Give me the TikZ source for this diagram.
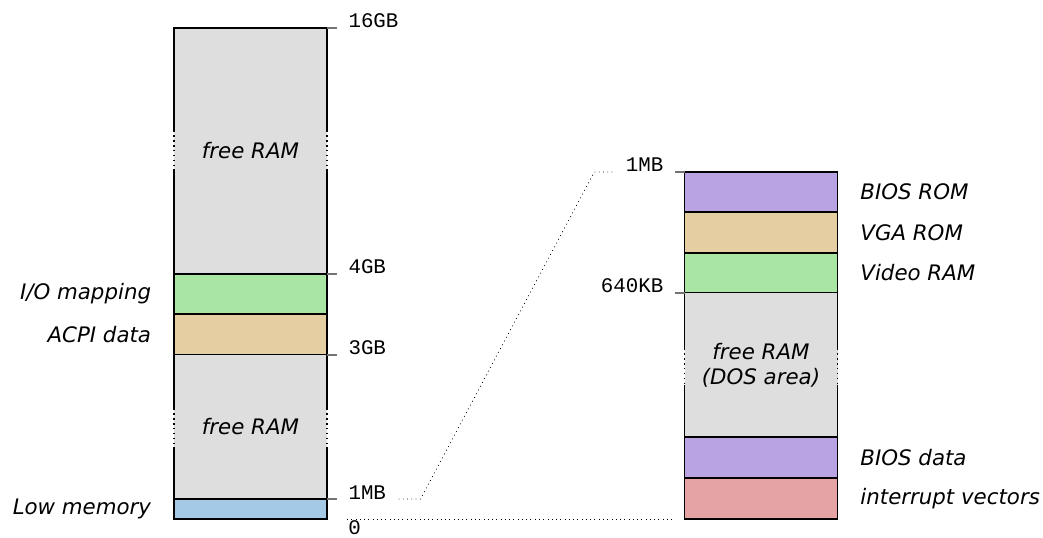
\documentclass[tikz,border=0pt]{standalone}
\usepackage{fontspec}
\setmainfont{DejaVu Sans}
\setmonofont{Liberation Mono}
\usetikzlibrary{positioning,calc}
\definecolor{ramgray}{RGB}{222,222,222}
\definecolor{biospurple}{RGB}{185,163,227}
\definecolor{acpitan}{RGB}{230,206,163}
\definecolor{iogreen}{RGB}{169,229,163}
\definecolor{lowblue}{RGB}{163,201,230}
\definecolor{vecred}{RGB}{230,163,166}
\tikzset{
  blk/.style   ={draw, line width=1.3pt, inner sep=0pt, outer sep=0pt, minimum width=114.75pt, align=center, font=\fontsize{16}{19}\selectfont\itshape},
  gapblk/.style={blk, draw=none, fill=ramgray},
  wall/.style  ={line width=1.3pt},
  brk/.style   ={line width=1.3pt, dash pattern=on 1.3pt off 2.4pt},
  tick/.style  ={line width=0.8pt, black!55},
  addr/.style  ={inner sep=0pt, text=black, font=\fontsize{15.6}{18}\selectfont\ttfamily},
  desc/.style  ={inner sep=0pt, font=\fontsize{16}{19}\selectfont\itshape},
  map/.style   ={line width=0.6pt, dash pattern=on 0.6pt off 2.6pt},
}
\begin{document}
\begin{tikzpicture}[x=0.75pt, y=-0.75pt]
  \useasboundingbox (0,0) rectangle (1043,538);
  % full address space
  \node[gapblk, minimum height=184.5pt, anchor=north] (hi) at (250.5,28) {free RAM};
  \node[blk, fill=iogreen, minimum height=30pt, below=0pt of hi] (io) {};
  \node[blk, fill=acpitan, minimum height=30.75pt, below=0pt of io] (acpi) {};
  \node[gapblk, minimum height=108pt, below=0pt of acpi] (lo) {free RAM};
  \node[blk, fill=lowblue, minimum height=15pt, below=0pt of lo] (low) {};
  % first megabyte
  \node[blk, fill=biospurple, minimum height=30pt, anchor=north] (brom) at (761,172) {};
  \node[blk, fill=acpitan, minimum height=30.75pt, below=0pt of brom] (vga) {};
  \node[blk, fill=iogreen, minimum height=30pt, below=0pt of vga] (vram) {};
  \node[gapblk, minimum height=108pt, below=0pt of vram] (dos) {free RAM\\(DOS area)};
  \node[blk, fill=biospurple, minimum height=30.75pt, below=0pt of dos] (bdata) {};
  \node[blk, fill=vecred, minimum height=30.75pt, below=0pt of bdata] (ivec) {};
  % broken walls
  \draw[wall] ($(hi.north west)+(0,102)$) -- (hi.north west) -- (hi.north east) -- ($(hi.north east)+(0,102)$);
  \foreach \s in {west,east} {
    \draw[brk] ($(hi.north \s)+(0,102)$) -- ($(hi.south \s)-(0,104)$);
    \draw[wall] (hi.south \s) -- ++(0,-104);
    \draw[wall] (lo.north \s) -- ++(0,53);
    \draw[brk] ($(lo.north \s)+(0,53)$) -- ($(lo.south \s)-(0,51)$);
    \draw[wall] (lo.south \s) -- ++(0,-51);
    \draw[wall] (dos.north \s) -- ++(0,55);
    \draw[brk] ($(dos.north \s)+(0,55)$) -- ($(dos.south \s)-(0,52)$);
    \draw[wall] (dos.south \s) -- ++(0,-52);
  }
  % addresses
  \draw[tick] (hi.north east) -- ++(10,0) node[addr, anchor=base west, xshift=8.25pt] (a16) {16GB};
  \draw[tick] (io.north east) -- ++(10,0) node[addr, anchor=base west, xshift=8.25pt] (a4) {4GB};
  \draw[tick] (acpi.south east) -- ++(10,0) node[addr, anchor=base west, xshift=8.25pt] (a3) {3GB};
  \draw[tick] (low.north east) -- ++(10,0) node[addr, anchor=base west, xshift=8.25pt] (mbL) {1MB};
  \node[addr, anchor=north west] (a0) at ($(low.south east)+(21,1.5)$) {0};
  \draw[tick] (brom.north west) -- ++(-10,0) node[addr, anchor=base east, xshift=-8pt] (mbR) {1MB};
  \draw[tick] (vram.south west) -- ++(-10,0) node[addr, anchor=base east, xshift=-8pt] (a640) {640KB};
  % zoom lines
  \draw[map] ($(mbL.base east)+(12,0)$) -- ++(22,0) -- ($(mbR.base west)+(-31,0)$) -- ($(mbR.base west)+(-11,0)$);
  \draw[map] ($(low.south east)+(20,0)$) -- ($(ivec.south west)+(-10,0)$);
  % descriptions
  \node[desc, left=17pt of io] (lio) {I/O mapping};
  \node[desc, left=17pt of acpi] (lacpi) {ACPI data};
  \node[desc, left=17pt of low] (llow) {Low memory};
  \node[desc, right=17pt of brom] (lbrom) {BIOS ROM};
  \node[desc, right=17pt of vga] (lvga) {VGA ROM};
  \node[desc, right=17pt of vram] (lvram) {Video RAM};
  \node[desc, right=17pt of bdata] (lbdata) {BIOS data};
  \node[desc, right=17pt of ivec] (livec) {interrupt vectors};
\end{tikzpicture}
\end{document}
